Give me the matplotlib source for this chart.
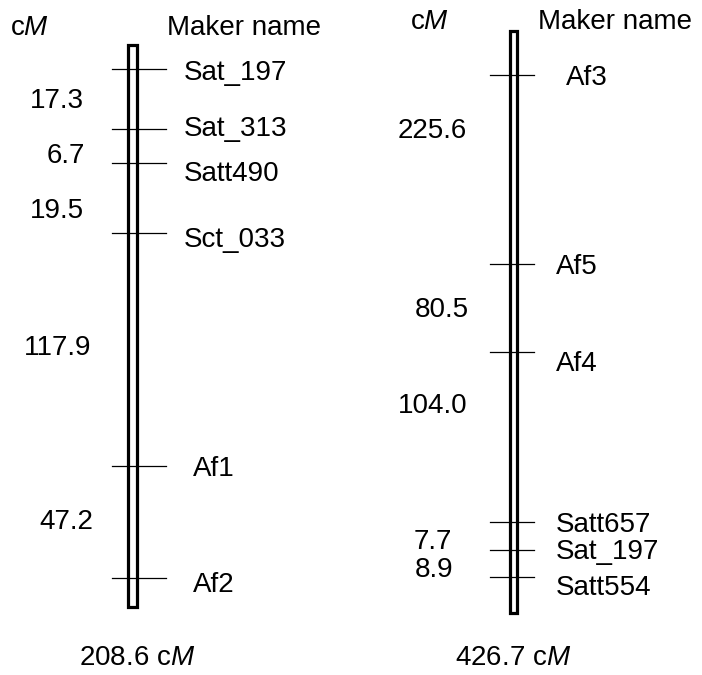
import matplotlib
matplotlib.use("Agg")
import matplotlib.pyplot as plt
from matplotlib.patches import Rectangle

plt.rcParams['font.family'] = ['Liberation Sans', 'DejaVu Sans']
plt.rcParams['mathtext.fontset'] = 'custom'
plt.rcParams['mathtext.rm'] = 'Liberation Sans'
plt.rcParams['mathtext.it'] = 'Liberation Sans:italic'

# left linkage group
left_markers = ["Sat_197", "Sat_313", "Satt490", "Sct_033", "Af1", "Af2"]
left_pos = [69, 129, 163, 233, 466, 578]          # drawn position (not to scale)
left_label_y = [70, 126, 171, 237, 466, 582]
left_label_x = [184, 184, 184, 184, 193, 193]
left_dist = ["17.3", "6.7", "19.5", "117.9", "47.2"]
left_dist_y = [98, 153, 208, 345, 519]
left_dist_x = [84, 85, 84, 91, 93]
left_total = "208.6"

# right linkage group
right_markers = ["Af3", "Af5", "Af4", "Satt657", "Sat_197", "Satt554"]
right_pos = [75, 264, 352, 522, 550, 577]
right_label_y = [75, 264, 361, 522, 549, 585]
right_label_x = [566, 556, 556, 556, 556, 556]
right_dist = ["225.6", "80.5", "104.0", "7.7", "8.9"]
right_dist_y = [128, 307, 403, 539, 567]
right_dist_x = [467, 469, 467, 452, 453]
right_total = "426.7"

fig = plt.figure(figsize=(7.02, 6.75), dpi=100)
ax = fig.add_axes([0, 0, 1, 1])
ax.set_xlim(0, 702)
ax.set_ylim(675, 0)
ax.axis("off")

fs = 20
half_cap = 10  # baseline sits this far below the visual centre of the digits/caps


def label(x, y, s, ha="left"):
    ax.text(x, y + half_cap, s, fontsize=fs, va="baseline", ha=ha)


def draw_group(x0, w, top, bottom, tick_l, tick_r, pos, markers, label_y, label_x,
               dist, dist_y, dist_x, total, total_x, head_y, cm_x, name_x):
    ax.add_patch(Rectangle((x0, top), w, bottom - top, fill=False, lw=2.3, ec="black"))
    for p in pos:
        ax.plot([tick_l, tick_r], [p, p], color="black", lw=0.9)
    for m, ly, lx in zip(markers, label_y, label_x):
        label(lx, ly, m)
    for d, dy, dx in zip(dist, dist_y, dist_x):
        label(dx, dy, d, ha="right")
    label(total_x, 655, total + " c$\\mathit{M}$", ha="center")
    label(cm_x, head_y, "c$\\mathit{M}$")
    label(name_x, head_y, "Maker name")


draw_group(127.5, 9, 45, 607, 112, 166, left_pos, left_markers, left_label_y,
           left_label_x, left_dist, left_dist_y, left_dist_x,
           left_total, 137, 25, 10, 167)
draw_group(509.5, 7, 31, 613, 490, 534, right_pos, right_markers, right_label_y,
           right_label_x, right_dist, right_dist_y, right_dist_x,
           right_total, 513, 19, 410, 538)

fig.savefig("out.png", dpi=100)
